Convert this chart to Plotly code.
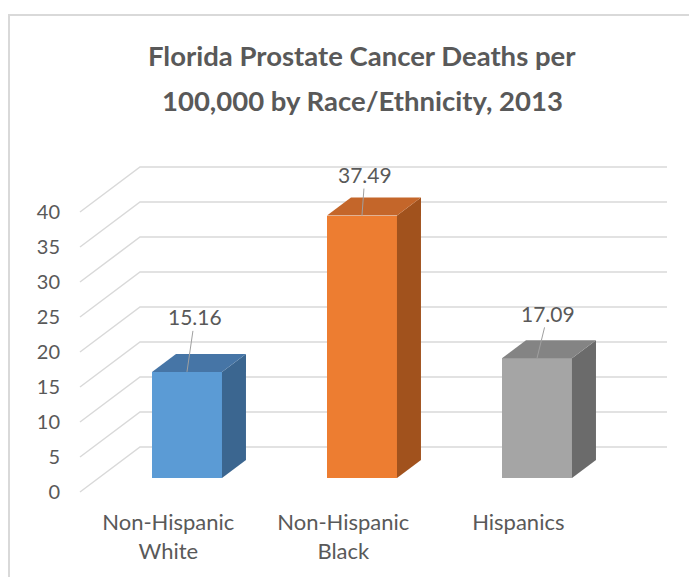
import plotly.graph_objects as go

# ---------------- data ----------------
CATEGORIES = ["Non-Hispanic<br>White", "Non-Hispanic<br>Black", "Hispanics"]
DEATH_RATES = [15.16, 37.49, 17.09]
Y_TICKS = [0, 5, 10, 15, 20, 25, 30, 35, 40]
TITLE_LINES = ["Florida Prostate Cancer Deaths per", "100,000 by Race/Ethnicity, 2013"]
LABEL_OFFSETS = [(8, -55), (3, -41), (11, -45)]   # leader-line offsets in px

# ---------------- style ----------------
FRONT = ["#5B9BD5", "#ED7D31", "#A5A5A5"]
TOP = ["#4675A6", "#C4662A", "#848484"]
SIDE = ["#3B6690", "#A1521D", "#6B6B6B"]
GRID = "#D9D9D9"
TXT = "#595959"
FONT = "Lato"

W, H = 689, 577
ML, MR, MT, MB = 70, 19, 120, 77
PW, PH = W - ML - MR, H - MT - MB
PX_PER_X = 175.0      # px per category step
PX_PER_Y = 7.0        # px per value unit

# oblique depth direction (full floor depth) in data units
DEPTH_DX = 60 / PX_PER_X
DEPTH_DY = 45 / PX_PER_Y
T_BAR_FRONT = 14 / 45
T_BAR_BACK = 32 / 45
BAR_W = 0.4

# main axes = front edge of floor
X0_MAIN = -(168.3 - ML) / PX_PER_X
Y0_MAIN = -(MT + PH - 492) / PX_PER_Y
X_RANGE = [X0_MAIN, X0_MAIN + PW / PX_PER_X]
Y_RANGE = [Y0_MAIN, Y0_MAIN + PH / PX_PER_Y]
WALL_LEFT = (80 - 168.3) / PX_PER_X
WALL_RIGHT = (667 - 168.3) / PX_PER_X

# bar plane axes (shifted by bar-front depth)
FX = T_BAR_FRONT * DEPTH_DX
FY = T_BAR_FRONT * DEPTH_DY
X_RANGE_B = [X_RANGE[0] - FX, X_RANGE[1] - FX]
Y_RANGE_B = [Y_RANGE[0] - FY, Y_RANGE[1] - FY]
BDX = (T_BAR_BACK - T_BAR_FRONT) * DEPTH_DX
BDY = (T_BAR_BACK - T_BAR_FRONT) * DEPTH_DY

fig = go.Figure()

# gridlines: floor-side diagonal + back wall horizontal
for v in Y_TICKS:
    fig.add_trace(go.Scatter(
        x=[WALL_LEFT, WALL_LEFT + DEPTH_DX, WALL_RIGHT],
        y=[v, v + DEPTH_DY, v + DEPTH_DY],
        mode="lines", line=dict(color=GRID, width=1.5),
        hoverinfo="skip", showlegend=False, xaxis="x", yaxis="y"))

xpos = list(range(len(CATEGORIES)))

# bars front faces
fig.add_trace(go.Bar(
    x=xpos, y=DEATH_RATES, width=BAR_W,
    marker=dict(color=FRONT, line=dict(width=0)),
    hoverinfo="skip", showlegend=False, xaxis="x2", yaxis="y2"))

# side and top faces
for i, v in enumerate(DEATH_RATES):
    xl, xr = i - BAR_W / 2, i + BAR_W / 2
    fig.add_trace(go.Scatter(
        x=[xr, xr, xr + BDX, xr + BDX, xr], y=[0, v, v + BDY, BDY, 0],
        mode="lines", fill="toself", fillcolor=SIDE[i], line=dict(width=0, color=SIDE[i]),
        hoverinfo="skip", showlegend=False, xaxis="x2", yaxis="y2"))
    fig.add_trace(go.Scatter(
        x=[xl, xr, xr + BDX, xl + BDX, xl], y=[v, v, v + BDY, v + BDY, v],
        mode="lines", fill="toself", fillcolor=TOP[i], line=dict(width=0, color=TOP[i]),
        hoverinfo="skip", showlegend=False, xaxis="x2", yaxis="y2"))

annotations = []
for i, v in enumerate(DEATH_RATES):
    ax, ay = LABEL_OFFSETS[i]
    annotations.append(dict(
        x=i, y=v, xref="x2", yref="y2", text=f"{v:.2f}",
        showarrow=True, arrowhead=0, arrowwidth=1, arrowcolor="#A0A0A0",
        ax=ax, ay=ay, font=dict(family=FONT, size=21, color=TXT)))

def paper_x(px):
    return (px - ML) / PW

def paper_y(py):
    return (MT + PH - py) / PH

for k, line in enumerate(TITLE_LINES):
    annotations.append(dict(
        x=paper_x(362), y=paper_y(56 + 45 * k), xref="paper", yref="paper",
        text=f"<b>{line}</b>", showarrow=False, xanchor="center", yanchor="middle",
        font=dict(family=FONT, size=27.5, color=TXT)))

fig.update_layout(
    width=W, height=H, autosize=False,
    margin=dict(l=ML, r=MR, t=MT, b=MB, pad=0),
    paper_bgcolor="white", plot_bgcolor="white",
    font=dict(family=FONT, color=TXT),
    showlegend=False,
    bargap=0,
    xaxis=dict(range=X_RANGE, tickmode="array", tickvals=xpos, ticktext=CATEGORIES,
               showgrid=False, zeroline=False, showline=False, ticks="",
               tickfont=dict(size=22, color=TXT), automargin=False,
               ticklabelstandoff=7, fixedrange=True),
    yaxis=dict(range=Y_RANGE, tickmode="array", tickvals=Y_TICKS,
               showgrid=False, zeroline=False, showline=False, ticks="",
               tickfont=dict(size=20, color=TXT), automargin=False,
               ticklabelstandoff=9, fixedrange=True),
    xaxis2=dict(range=X_RANGE_B, overlaying="x", visible=False, fixedrange=True),
    yaxis2=dict(range=Y_RANGE_B, overlaying="y", visible=False, fixedrange=True),
    annotations=annotations,
    shapes=[dict(type="rect", xref="paper", yref="paper",
                 x0=paper_x(9), x1=paper_x(720), y0=paper_y(620), y1=paper_y(15),
                 line=dict(color="#D9D9D9", width=2), layer="below")],
)

fig.write_html("out.html")
